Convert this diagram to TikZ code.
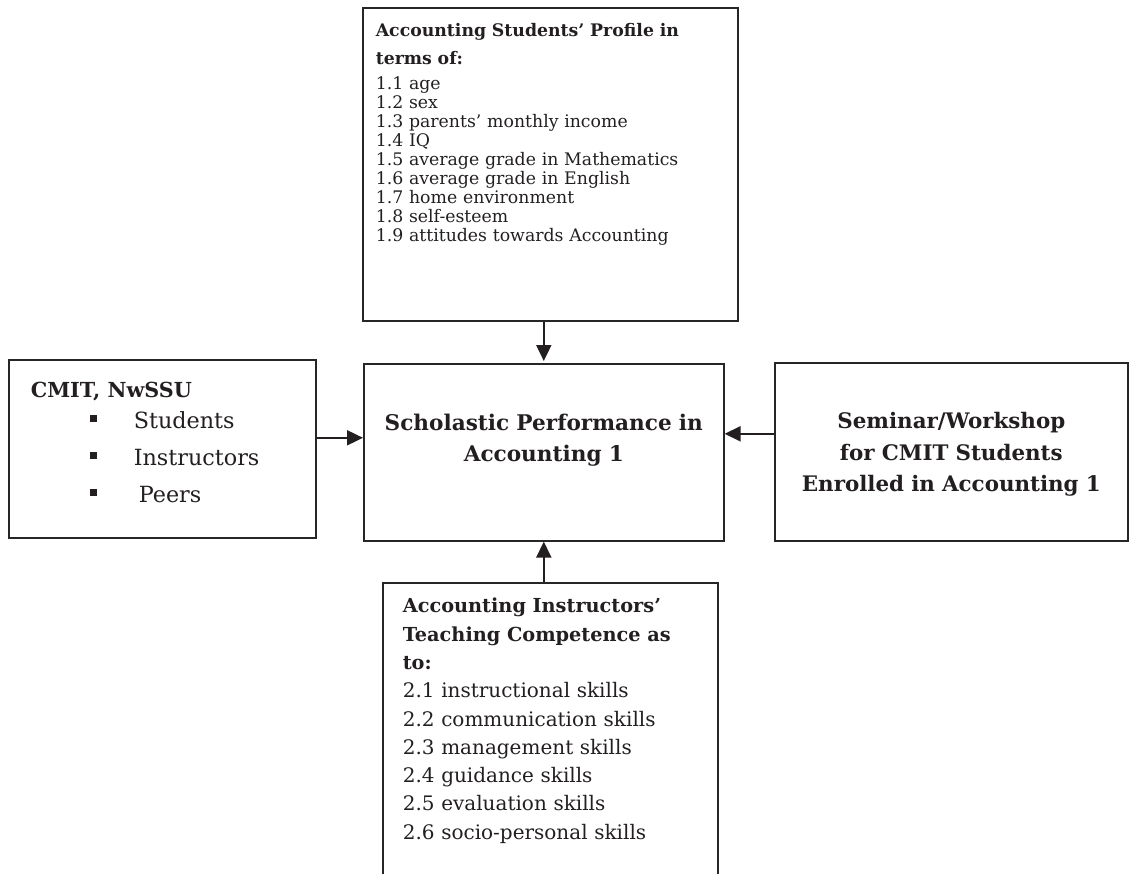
\documentclass[tikz,border=0pt]{standalone}
\usepackage{fontspec}
\setmainfont{DejaVu Serif}
\usetikzlibrary{arrows.meta}
\definecolor{tinta}{HTML}{231F20}
\definecolor{borde}{HTML}{262626}
\newcommand{\cuadro}{\raisebox{7pt}{\rule{7pt}{7pt}}}

\begin{document}
\begin{tikzpicture}[x=1pt, y=-1pt, color=tinta,
    caja/.style={draw=borde, line width=1.6pt, inner ysep=0pt, anchor=north west},
    flecha/.style={line width=1.9pt, -{Triangle[length=16pt,width=15pt]}}]
  \useasboundingbox (0,0) rectangle (1130,873);
  \node[caja, text width=349pt, inner xsep=13pt, align=left, text height=29pt,
        text depth=284pt, font=\fontsize{17.3}{19}\selectfont] (perfil) at (362,7)
    {\textbf{Accounting Students' Profile in}\\[9pt]
     \textbf{terms of:}\\[6pt]
     1.1 age\\ 1.2 sex\\ 1.3 parents' monthly income\\ 1.4 IQ\\
     1.5 average grade in Mathematics\\ 1.6 average grade in English\\
     1.7 home environment\\ 1.8 self-esteem\\ 1.9 attitudes towards Accounting};
  \node[caja, text width=263pt, inner xsep=22pt, align=left, text height=38pt,
        text depth=140pt, font=\fontsize{22.3}{37}\selectfont] (cmit) at (8,359)
    {{\fontsize{20.7}{24}\selectfont\textbf{CMIT, NwSSU}}\\[-6pt]
     \hspace*{59pt}\cuadro\hspace*{37pt}Students\\
     \hspace*{59pt}\cuadro\hspace*{37pt}Instructors\\
     \hspace*{59pt}\cuadro\hspace*{42pt}Peers};
  \node[caja, text width=340pt, inner xsep=10pt, align=center, text height=67pt,
        text depth=110pt, font=\bfseries\fontsize{21.6}{31}\selectfont] (desempeno) at (363,363)
    {Scholastic Performance in\\ Accounting 1};
  \node[caja, text width=333pt, inner xsep=10pt, align=center, text height=66pt,
        text depth=112pt, font=\bfseries\fontsize{21.4}{31.5}\selectfont] (seminario) at (774,362)
    {Seminar/Workshop\\ for CMIT Students\\ Enrolled in Accounting 1};
  \node[caja, text width=295pt, inner xsep=20pt, align=left, text height=30pt,
        text depth=300pt, font=\fontsize{20}{28.3}\selectfont] (ensenanza) at (382,582)
    {{\fontsize{19.3}{28.3}\selectfont\bfseries Accounting Instructors'\\
     Teaching Competence as\\
     to:}\\
     2.1 instructional skills\\ 2.2 communication skills\\ 2.3 management skills\\
     2.4 guidance skills\\ 2.5 evaluation skills\\ 2.6 socio-personal skills};
  \draw[flecha, shorten >=2pt] (perfil.south -| desempeno.north) -- (desempeno.north);
  \draw[flecha] ([yshift=11pt]cmit.east) -- ([yshift=11pt]cmit.east -| desempeno.west);
  \draw[flecha] ([yshift=18pt]seminario.west) -- ([yshift=18pt]seminario.west -| desempeno.east);
  \draw[flecha] (ensenanza.north -| desempeno.south) -- (desempeno.south);
\end{tikzpicture}
\end{document}
